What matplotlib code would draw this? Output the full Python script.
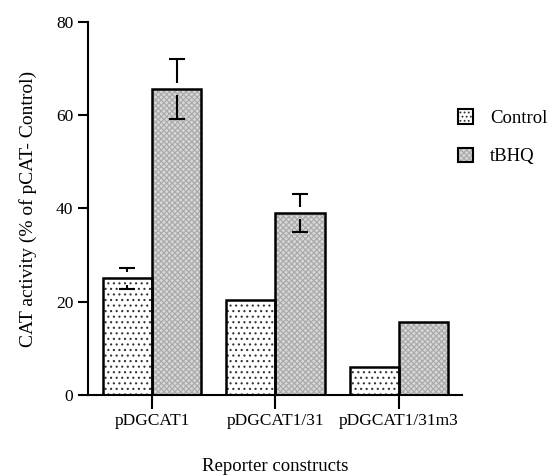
import matplotlib.pyplot as plt
from matplotlib.legend_handler import HandlerTuple
import numpy as np

# データ
constructs = ["pDGCAT1", "pDGCAT1/31", "pDGCAT1/31m3"]
control = [25.0, 20.4, 6.0]
control_err = [2.2, 0.0, 0.0]
tbhq = [65.6, 39.0, 15.7]
tbhq_err = [6.5, 4.1, 0.0]

plt.rcParams['font.family'] = ['Liberation Serif', 'DejaVu Serif']
plt.rcParams['hatch.linewidth'] = 0.8

fig = plt.figure(figsize=(5.57, 4.76), dpi=100)
ax = fig.add_axes((0.158, 0.170, 0.671, 0.784))

x = np.arange(len(constructs))
w = 0.4

# 塗り (ハッチ) と枠線を別々に描く
ax.bar(x - w / 2, control, w, color='white', edgecolor='#333333',
       linewidth=0, hatch='...')
ax.bar(x + w / 2, tbhq, w, color='#d6d6d6', edgecolor='#a8a8a8',
       linewidth=0, hatch='xxxxxx')
ax.bar(x - w / 2, control, w, fill=False, edgecolor='black', linewidth=1.8)
ax.bar(x + w / 2, tbhq, w, fill=False, edgecolor='black', linewidth=1.8)

# 誤差棒 (バー上端の周りは隙間あり)
def err_plot(xs, tops, errs):
    gap = 1.3
    cap = 0.065
    for xc, t, e in zip(xs, tops, errs):
        if e <= 0:
            continue
        ax.vlines(xc, t + gap, t + e, color='black', lw=1.5, zorder=5)
        ax.hlines(t + e, xc - cap, xc + cap, color='black', lw=1.5, zorder=5)
        ax.vlines(xc, t - e, t - gap, color='black', lw=1.5, zorder=5)
        ax.hlines(t - e, xc - cap, xc + cap, color='black', lw=1.5, zorder=5)

err_plot(x - w / 2, control, control_err)
err_plot(x + w / 2, tbhq, tbhq_err)

ax.set_xlim(-0.52, 2.51)
ax.set_ylim(0, 80)
ax.set_yticks([0, 20, 40, 60, 80])
ax.set_xticks(x)
ax.set_xticklabels(constructs, fontsize=12.5)
ax.tick_params(axis='y', labelsize=12.5, length=7, width=1.5, direction='out')
ax.tick_params(axis='x', length=10, width=1.5, direction='out', pad=3)
for s in ['top', 'right']:
    ax.spines[s].set_visible(False)
for s in ['left', 'bottom']:
    ax.spines[s].set_linewidth(1.5)

ax.set_ylabel("CAT activity (% of pCAT- Control)", fontsize=14, labelpad=14)
ax.set_xlabel("Reporter constructs", fontsize=13.5, labelpad=21)

# 凡例 (ハッチと枠を重ねる)
h1 = (plt.Rectangle((0, 0), 1, 1, facecolor='white', edgecolor='#333333', hatch='....', lw=0),
      plt.Rectangle((0, 0), 1, 1, fill=False, edgecolor='black', lw=1.5))
h2 = (plt.Rectangle((0, 0), 1, 1, facecolor='#d6d6d6', edgecolor='#a8a8a8', hatch='xxxxxx', lw=0),
      plt.Rectangle((0, 0), 1, 1, fill=False, edgecolor='black', lw=1.5))
ax.legend([h1, h2], ['Control', 'tBHQ'], loc='upper left',
          handler_map={tuple: HandlerTuple(ndivide=1, pad=0)},
          bbox_to_anchor=(0.806, 0.79), bbox_transform=fig.transFigure,
          frameon=False, fontsize=13.5, handlelength=0.8, handleheight=0.8,
          labelspacing=1.1, handletextpad=0.9, borderpad=0)

fig.savefig("out.png", dpi=100)
